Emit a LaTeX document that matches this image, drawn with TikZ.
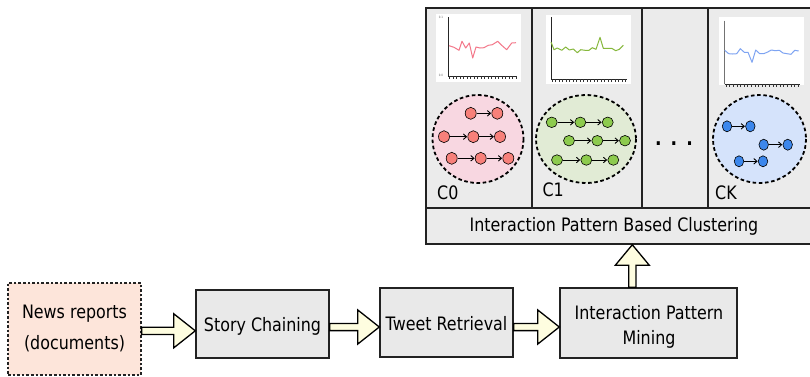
\documentclass[tikz,border=0pt]{standalone}
\usepackage{fontspec}
\setmainfont{DejaVu Sans}[FakeStretch=0.86]
\usetikzlibrary{calc,arrows.meta,shapes.geometric}

\definecolor{panelgray}{HTML}{EBEBEB}
\definecolor{boxgray}{HTML}{E9E9E9}
\definecolor{newsfill}{HTML}{FDE5DA}
\definecolor{arrowfill}{HTML}{FEFDE0}
\definecolor{pinkbg}{HTML}{F8D7E1}
\definecolor{greenbg}{HTML}{E1EBD5}
\definecolor{bluebg}{HTML}{D5E3FB}
\definecolor{pinknode}{HTML}{F7807A}
\definecolor{greennode}{HTML}{8DCB4E}
\definecolor{bluenode}{HTML}{3C87EC}
\definecolor{pinkline}{HTML}{F3788A}
\definecolor{greenline}{HTML}{86B83C}
\definecolor{blueline}{HTML}{7EA4F2}
\definecolor{edgegray}{HTML}{222222}

% fat hollow arrow pointing right, from #1 to #2 (same height)
\newcommand\fatright[2]{%
  \draw[fatarrow] let \p1=(#1), \p2=(#2) in
    (\x1,\y1+3.6pt) -- (\x2-21.5pt,\y1+3.6pt) -- (\x2-21.5pt,\y1+17pt) -- (\x2,\y1)
    -- (\x2-21.5pt,\y1-17pt) -- (\x2-21.5pt,\y1-3.6pt) -- (\x1,\y1-3.6pt) -- cycle;}
% fat hollow arrow pointing up, from #1 to #2 (same x)
\newcommand\fatup[2]{%
  \draw[fatarrow] let \p1=(#1), \p2=(#2) in
    (\x1-3.6pt,\y1) -- (\x1-3.6pt,\y2-20.5pt) -- (\x1-17pt,\y2-20.5pt) -- (\x1,\y2)
    -- (\x1+17pt,\y2-20.5pt) -- (\x1+3.6pt,\y2-20.5pt) -- (\x1+3.6pt,\y1) -- cycle;}

\begin{document}
\begin{tikzpicture}[x=1pt,y=-1pt,
  every node/.style={font=\fontsize{18.5}{22}\selectfont},
  procbox/.style={draw=edgegray, line width=1.4pt, fill=boxgray, inner sep=0pt},
  newsbox/.style={draw=edgegray, line width=1.2pt, dash pattern=on 2.6pt off 2pt, fill=newsfill, inner sep=0pt},
  panelbox/.style={draw=edgegray, line width=1.5pt, fill=panelgray, inner sep=0pt},
  divider/.style={draw=edgegray, line width=1.4pt},
  fatarrow/.style={draw=black, line width=1.3pt, fill=arrowfill, line join=miter},
  txt/.style={inner sep=0pt, anchor=base},
  clusterring/.style={draw=black, line width=1.8pt, dash pattern=on 3.6pt off 2.6pt},
  gnode/.style={draw=black, line width=0.6pt, ellipse, inner sep=0pt},
  garrow/.style={draw=black, line width=0.9pt, -{Straight Barb[length=3.2pt,width=5.5pt]}, shorten >=0.3pt},
  chartbg/.style={fill=white, draw=none},
  tick/.style={line width=0.6pt, black!80},
]
\useasboundingbox (0,0) rectangle (810,376);

% ---------------- clustering panel ----------------
\node[panelbox, minimum width=389, minimum height=236] (panel) at (620.5,126) {};
\coordinate (rowsep) at (0,208);
\draw[divider] (panel.west |- rowsep) -- (panel.east |- rowsep);
\foreach \xx in {532,642,708}
  \draw[divider] (\xx,8) -- (\xx,208);
\node[txt] (clustlabel) at (614,231) {Interaction Pattern Based Clustering};

% --- chart C0
\fill[chartbg] (436,14) rectangle (521,82);
\draw[line width=0.8pt, black!85] (448,17) -- (448,76) -- (517,76);
\foreach \t in {0,...,19} \draw[tick] (449.5+3.5*\t,76) -- ++(0,2.5);
\node[inner sep=0pt, font=\fontsize{3}{3}\selectfont, text=black!60] (c0top) at (441,17) {0.1};
\node[inner sep=0pt, font=\fontsize{3}{3}\selectfont, text=black!60] (c0bot) at (441,75.5) {0.0};
\draw[pinkline, line width=1pt, line join=round] plot coordinates {
  (449,45.7) (454,47.3) (459,50.3) (462,41.3) (465.7,48) (469.3,43) (472.7,58)
  (476,47) (480,48) (484,47.7) (488.3,45.3) (492.3,44.7) (497.7,41.3) (501.7,45.3)
  (506.7,49.7) (511.7,43) (516,42.7)};

% --- chart C1
\fill[chartbg] (546,15) rectangle (631,84);
\draw[line width=0.8pt, black!85] (551,17) -- (551,79) -- (627,79);
\foreach \t in {0,...,21} \draw[tick] (552+3.5*\t,79) -- ++(0,2.5);
\draw[greenline, line width=1pt, line join=round] plot coordinates {
  (551,42) (554,49.7) (557.3,48) (561.7,50.3) (565.7,47) (569.3,50) (573.3,49)
  (577.3,52.7) (580.7,49.7) (585,50.3) (589,50.3) (592.3,47.7) (596,49.3) (600,37.3)
  (603.3,48.3) (607.7,48.3) (611.7,48.3) (615.7,50.7) (619.3,49.3) (623.3,45.3)};

% --- chart CK
\fill[chartbg] (718.7,17.3) rectangle (803.7,84.7);
\draw[line width=1.5pt, black!55] (724.7,20.7) -- (724.7,84);
\draw[line width=0.8pt, black!85] (724.7,84) -- (800,84);
\foreach \t in {0,...,20} \draw[tick] (726+3.6*\t,84) -- ++(0,2.5);
\draw[blueline, line width=1pt, line join=round] plot coordinates {
  (724.7,50.3) (728.7,53.7) (732.7,54) (736.7,53.7) (740.3,48.7) (744.3,52.3) (748,52.3)
  (752,62.3) (755.7,50) (759.7,53.7) (763.7,53.7) (767.7,52) (771.3,50) (775.3,50.7)
  (779.3,50.3) (783,53) (787,53.7) (791,54.3) (794.7,50.3) (798.7,51)};

% --- cluster C0
\draw[clusterring, fill=pinkbg] (478,139) ellipse [x radius=45.5, y radius=44];
\begin{scope}[every node/.style={gnode, fill=pinknode, minimum width=11pt, minimum height=12pt}]
  \node (p11) at (470.7,113.3) {}; \node (p12) at (497.3,113.3) {};
  \node (p21) at (444,136.7) {};   \node (p22) at (473.3,136.7) {}; \node (p23) at (500,136.7) {};
  \node (p31) at (451.7,158.3) {}; \node (p32) at (480.7,158.3) {}; \node (p33) at (508.3,158.3) {};
\end{scope}
\draw[garrow] (p11) -- (p12);
\draw[garrow] (p21) -- (p22); \draw[garrow] (p22) -- (p23);
\draw[garrow] (p31) -- (p32); \draw[garrow] (p32) -- (p33);
\node[txt, anchor=base west] (c0) at (437,199) {C0};

% --- cluster C1
\draw[clusterring, fill=greenbg] (586,139) ellipse [x radius=50, y radius=44];
\begin{scope}[every node/.style={gnode, fill=greennode, minimum width=11pt, minimum height=10.5pt}]
  \node (g11) at (551.7,122.3) {}; \node (g12) at (580.3,122.3) {}; \node (g13) at (607.7,122.3) {};
  \node (g21) at (569,140.7) {};   \node (g22) at (597.3,140.7) {}; \node (g23) at (625,140.7) {};
  \node (g31) at (557,160) {};     \node (g32) at (586.3,160) {};   \node (g33) at (613.3,160) {};
\end{scope}
\draw[garrow] (g11) -- (g12); \draw[garrow] (g12) -- (g13);
\draw[garrow] (g21) -- (g22); \draw[garrow] (g22) -- (g23);
\draw[garrow] (g31) -- (g32); \draw[garrow] (g32) -- (g33);
\node[txt, anchor=base west] (c1) at (542.3,196.7) {C1};

% --- ellipsis column
\node[txt, font=\fontsize{20}{20}\bfseries] (more) at (674,145.7) {.\hspace{9.2pt}.\hspace{9.2pt}.};

% --- cluster CK
\draw[clusterring, fill=bluebg] (759.5,139) ellipse [x radius=46.5, y radius=44];
\begin{scope}[every node/.style={gnode, fill=bluenode, minimum width=9.5pt, minimum height=11pt}]
  \node (b11) at (727,126.3) {};   \node (b12) at (750.3,126.3) {};
  \node (b21) at (763.7,144.7) {}; \node (b22) at (787.7,144.7) {};
  \node (b31) at (739,161.3) {};   \node (b32) at (763,161.3) {};
\end{scope}
\draw[garrow] (b11) -- (b12);
\draw[garrow] (b21) -- (b22);
\draw[garrow] (b31) -- (b32);
\node[txt, anchor=base west] (ck) at (715,199) {CK};

% ---------------- processing pipeline ----------------
\node[newsbox, minimum width=133, minimum height=92] (news) at (74.5,329) {};
\node[txt] (newsA) at (74.5,318.3) {News reports};
\node[txt] (newsB) at (74.5,349) {(documents)};

\node[procbox, minimum width=133, minimum height=68] (story) at (262.5,324) {};
\node[txt] (storyT) at (262.5,331.5) {Story Chaining};

\node[procbox, minimum width=133, minimum height=69] (tweet) at (446.5,322.5) {};
\node[txt] (tweetT) at (446.5,330.5) {Tweet Retrieval};

\node[procbox, minimum width=177, minimum height=70] (ipm) at (648.5,323) {};
\node[txt] (ipmA) at (649,319.5) {Interaction Pattern};
\node[txt] (ipmB) at (649,344) {Mining};

% connectors
\coordinate (lvlA) at (0,330.8);
\coordinate (lvlB) at (0,327);
\coordinate (upx) at (632.3,0);
\fatright{news.east |- lvlA}{story.west |- lvlA}
\fatright{story.east |- lvlB}{tweet.west |- lvlB}
\fatright{tweet.east |- lvlB}{ipm.west |- lvlB}
\fatup{ipm.north -| upx}{panel.south -| upx}
\end{tikzpicture}
\end{document}
